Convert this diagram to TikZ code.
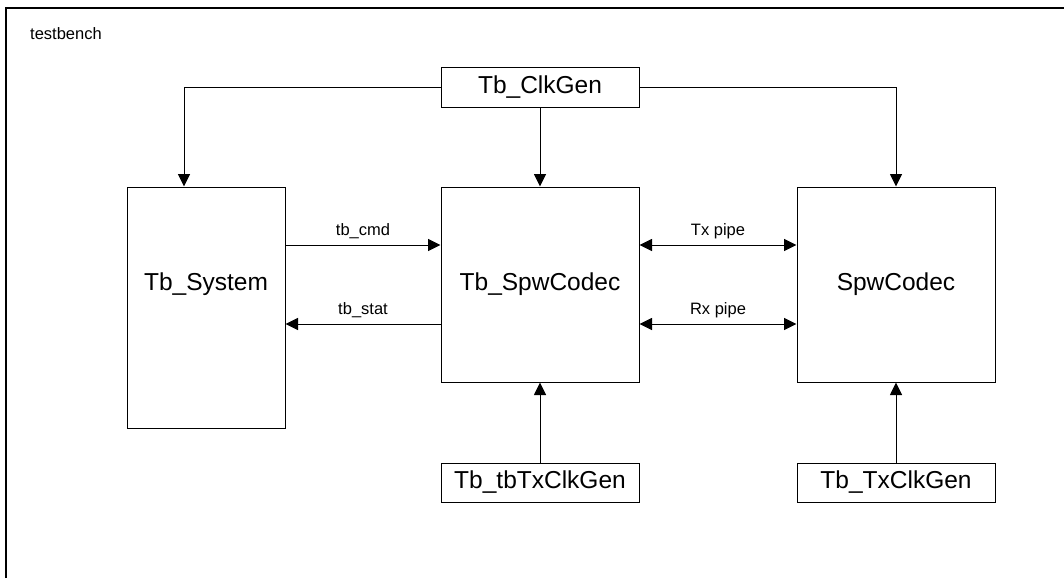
\documentclass[tikz,border=0pt]{standalone}
\usepackage{fontspec}
\setmainfont{Liberation Sans}
\usetikzlibrary{arrows.meta}

\begin{document}
\begin{tikzpicture}[x=1pt, y=-1pt,
  >={Triangle[length=12.5pt, width=12pt]},
  blk/.style={draw, line width=1pt, minimum width=198pt, inner sep=0pt, font=\fontsize{24.5}{28}\selectfont},
  sig/.style={line width=1pt},
  lbl/.style={font=\fontsize{16.5}{19}\selectfont, inner sep=0pt}]
\useasboundingbox (0,0) rectangle (1064,578);

% testbench frame
\draw[line width=1.5pt] (6,578) -- (6,8) -- (1064,8);
\node[lbl, anchor=west] (tb) at (30,34) {testbench};

% blocks
\node[blk, minimum height=40pt] (clk) at (540,87) {Tb\_ClkGen};
\node[blk, minimum width=158pt, minimum height=241pt] (sys) at (206,307.5) {};
\node[blk, minimum height=195pt] (cod) at (540,284.5) {Tb\_SpwCodec};
\node[blk, minimum height=195pt] (spw) at (896,284.5) {SpwCodec};
\node[blk, minimum height=39pt] (tbtx) at (540,482.5) {Tb\_tbTxClkGen};
\node[blk, minimum height=39pt] (tx) at (896,482.5) {Tb\_TxClkGen};
\node[blk, draw=none, minimum width=0pt] (systxt) at (sys.center |- cod.center) {Tb\_System};

% clocks
\draw[sig, ->] (clk.west) -| ([xshift=-22pt]sys.north);
\draw[sig, ->] (clk.east) -| (spw.north);
\draw[sig, ->] (clk.south) -- (cod.north);
\draw[sig, ->] (tbtx.north) -- (cod.south);
\draw[sig, ->] (tx.north) -- (spw.south);

% data paths
\coordinate (up) at ([yshift=39.5pt]cod.west);
\coordinate (dn) at ([yshift=-39.5pt]cod.west);
\coordinate (upR) at ([yshift=39.5pt]cod.east);
\coordinate (dnR) at ([yshift=-39.5pt]cod.east);
\draw[sig, ->] (sys.east |- up) -- (up) node[lbl, midway, yshift=14pt] (cmd) {tb\_cmd};
\draw[sig, <-] (sys.east |- dn) -- (dn) node[lbl, midway, yshift=14pt] (stat) {tb\_stat};
\draw[sig, <->] (upR) -- (spw.west |- upR) node[lbl, midway, yshift=14pt] (txp) {Tx pipe};
\draw[sig, <->] (dnR) -- (spw.west |- dnR) node[lbl, midway, yshift=14pt] (rxp) {Rx pipe};
\end{tikzpicture}
\end{document}
